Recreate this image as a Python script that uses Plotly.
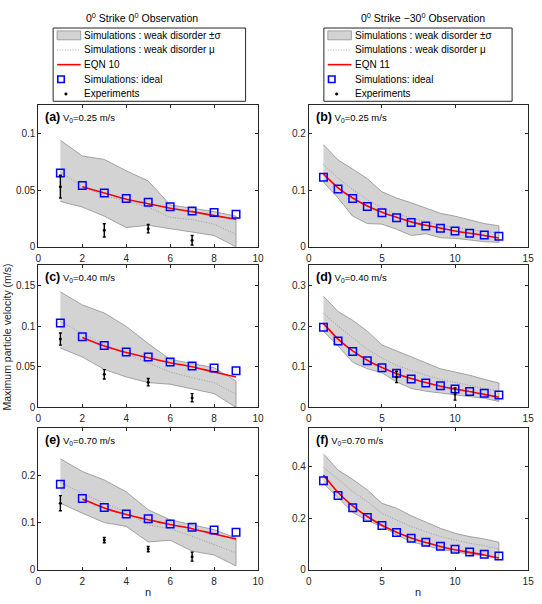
import plotly.graph_objects as go

W, H = 542, 604
FONT = "Liberation Sans"

# ---------------- data ----------------
n_left = [1, 2, 3, 4, 5, 6, 7, 8, 9]
n_left_eqn = [2, 3, 4, 5, 6, 7, 8, 9]
n_right = [1, 2, 3, 4, 5, 6, 7, 8, 9, 10, 11, 12, 13]
exp_n_left = [1, 3, 5, 7]

# (a) V0 = 0.25, 0 deg observation
a_ideal = [0.065, 0.054, 0.0474, 0.0425, 0.0393, 0.0353, 0.0315, 0.0303, 0.0286]
a_eqn = [0.053, 0.0475, 0.042, 0.038, 0.034, 0.031, 0.0275, 0.0243]
a_upper = [0.094, 0.080, 0.077, 0.067, 0.058, 0.037, 0.034, 0.031, 0.027]
a_lower = [0.040, 0.035, 0.027, 0.017, 0.019, 0.016, 0.013, 0.010, 0.0]
a_mean = [0.066, 0.053, 0.045, 0.040, 0.035, 0.026, 0.024, 0.020, 0.011]
a_exp = [0.053, 0.0145, 0.016, 0.0058]
a_exp_err = [0.010, 0.0058, 0.0037, 0.0042]

# (c) V0 = 0.40
c_ideal = [0.1037, 0.087, 0.076, 0.068, 0.062, 0.0557, 0.0508, 0.0484, 0.045]
c_eqn = [0.086, 0.0755, 0.0675, 0.061, 0.055, 0.050, 0.0435, 0.0374]
c_upper = [0.142, 0.126, 0.116, 0.0996, 0.0785, 0.059, 0.054, 0.0488, 0.0325]
c_lower = [0.073, 0.062, 0.0468, 0.0374, 0.0305, 0.0285, 0.0224, 0.017, 0.0]
c_mean = [0.1057, 0.0907, 0.0772, 0.066, 0.055, 0.0435, 0.0366, 0.0305, 0.0163]
c_exp = [0.084, 0.0407, 0.031, 0.012]
c_exp_err = [0.0075, 0.0057, 0.0045, 0.005]

# (e) V0 = 0.70
e_ideal = [0.181, 0.151, 0.132, 0.118, 0.108, 0.097, 0.090, 0.0843, 0.0794]
e_eqn = [0.150, 0.131, 0.117, 0.106, 0.096, 0.087, 0.076, 0.0655]
e_upper = [0.235, 0.208, 0.190, 0.165, 0.127, 0.106, 0.0955, 0.085, 0.0676]
e_lower = [0.141, 0.120, 0.100, 0.092, 0.059, 0.0627, 0.0397, 0.0314, 0.0084]
e_mean = [0.185, 0.162, 0.141, 0.122, 0.0955, 0.087, 0.071, 0.0537, 0.036]
e_exp = [0.141, 0.063, 0.044, 0.028]
e_exp_err = [0.016, 0.0055, 0.0055, 0.0095]

# (b) V0 = 0.25, -30 deg observation
b_ideal = [0.1224, 0.102, 0.085, 0.071, 0.060, 0.0513, 0.043, 0.0367, 0.0327, 0.028, 0.024, 0.021, 0.0187]
b_eqn = [0.128, 0.104, 0.086, 0.072, 0.061, 0.052, 0.044, 0.038, 0.033, 0.028, 0.024, 0.020, 0.0155]
b_upper = [0.18, 0.153, 0.137, 0.12, 0.097, 0.086, 0.0776, 0.069, 0.059, 0.054, 0.048, 0.041, 0.037]
b_lower = [0.114, 0.086, 0.054, 0.041, 0.040, 0.031, 0.020, 0.023, 0.016, 0.015, 0.012, 0.009, 0.008]
b_mean = [0.145, 0.121, 0.101, 0.083, 0.069, 0.058, 0.051, 0.044, 0.038, 0.034, 0.030, 0.027, 0.0245]

# (d) V0 = 0.40
d_ideal = [0.197, 0.163, 0.1376, 0.115, 0.0973, 0.0837, 0.070, 0.060, 0.053, 0.045, 0.0394, 0.0346, 0.0306]
d_eqn = [0.206, 0.168, 0.139, 0.116, 0.098, 0.083, 0.071, 0.061, 0.052, 0.045, 0.039, 0.032, 0.025]
d_upper = [0.2735, 0.2357, 0.214, 0.1875, 0.1537, 0.139, 0.1255, 0.111, 0.095, 0.087, 0.079, 0.069, 0.060]
d_lower = [0.1875, 0.151, 0.111, 0.095, 0.085, 0.0627, 0.0467, 0.040, 0.0346, 0.0306, 0.0265, 0.0225, 0.0145]
d_mean = [0.2317, 0.1995, 0.1714, 0.143, 0.1215, 0.103, 0.091, 0.079, 0.069, 0.061, 0.053, 0.0467, 0.040]
d_exp_n = [6, 10]
d_exp = [0.075, 0.033]
d_exp_err = [0.014, 0.015]

# (f) V0 = 0.70
f_ideal = [0.346, 0.288, 0.241, 0.2026, 0.1716, 0.1445, 0.1226, 0.107, 0.0916, 0.080, 0.0697, 0.0606, 0.054]
f_eqn = [0.368, 0.30, 0.248, 0.207, 0.173, 0.146, 0.124, 0.106, 0.091, 0.078, 0.068, 0.058, 0.046]
f_upper = [0.449, 0.387, 0.351, 0.31, 0.258, 0.239, 0.210, 0.187, 0.161, 0.142, 0.129, 0.120, 0.107]
f_lower = [0.335, 0.28, 0.223, 0.191, 0.168, 0.1355, 0.1097, 0.094, 0.080, 0.071, 0.0606, 0.0555, 0.045]
f_mean = [0.397, 0.352, 0.303, 0.265, 0.219, 0.1935, 0.168, 0.148, 0.129, 0.116, 0.103, 0.094, 0.081]

panel_letters = ["(a)", "(b)", "(c)", "(d)", "(e)", "(f)"]
panel_v0 = ["0.25", "0.25", "0.40", "0.40", "0.70", "0.70"]
y_max = [0.125, 0.25, 0.175, 0.35, 0.30, 0.55]
y_ticks = [[0, 0.05, 0.1], [0, 0.1, 0.2], [0, 0.05, 0.1, 0.15],
           [0, 0.1, 0.2, 0.3], [0, 0.1, 0.2], [0, 0.2, 0.4]]
x_ticks_left = [0, 2, 4, 6, 8, 10]
x_ticks_right = [0, 5, 10, 15]
titles = ["0<sup>0</sup> Strike 0<sup>0</sup> Observation",
          "0<sup>0</sup> Strike \u221230<sup>0</sup> Observation"]
legend_labels_left = ["Simulations : weak disorder \u00b1\u03c3", "Simulations : weak disorder \u03bc",
                      "EQN 10", "Simulations: ideal", "Experiments"]
legend_labels_right = ["Simulations : weak disorder \u00b1\u03c3", "Simulations : weak disorder \u03bc",
                       "EQN 11", "Simulations: ideal", "Experiments"]
y_title = "Maximum particle velocity (m/s)"
x_title = "n"

panels = [
    dict(n=n_left, ne=n_left_eqn, ideal=a_ideal, eqn=a_eqn, up=a_upper, lo=a_lower, mean=a_mean,
         en=exp_n_left, ey=a_exp, ee=a_exp_err),
    dict(n=n_right, ne=n_right, ideal=b_ideal, eqn=b_eqn, up=b_upper, lo=b_lower, mean=b_mean,
         en=[], ey=[], ee=[]),
    dict(n=n_left, ne=n_left_eqn, ideal=c_ideal, eqn=c_eqn, up=c_upper, lo=c_lower, mean=c_mean,
         en=exp_n_left, ey=c_exp, ee=c_exp_err),
    dict(n=n_right, ne=n_right, ideal=d_ideal, eqn=d_eqn, up=d_upper, lo=d_lower, mean=d_mean,
         en=d_exp_n, ey=d_exp, ee=d_exp_err),
    dict(n=n_left, ne=n_left_eqn, ideal=e_ideal, eqn=e_eqn, up=e_upper, lo=e_lower, mean=e_mean,
         en=exp_n_left, ey=e_exp, ee=e_exp_err),
    dict(n=n_right, ne=n_right, ideal=f_ideal, eqn=f_eqn, up=f_upper, lo=f_lower, mean=f_mean,
         en=[], ey=[], ee=[]),
]

# ---------------- layout helpers (pixels -> paper) ----------------
def px(x):
    return x / W

def py(y):
    return 1 - y / H

col_x = [(36, 259.3), (311, 534)]
row_y = [(106, 249.3), (267.7, 411.5), (432.3, 575.6)]

BAND_FILL = "#d3d3d3"
BAND_LINE = "#8f8f8f"
MEAN_COL = "#8a8a8a"
MEAN_DASH = "1px,1.6px"
RED = "#ff0000"
BLUE = "#0000ff"
AX = "#262626"

fig = go.Figure()
layout = dict(width=W, height=H, margin=dict(l=0, r=0, t=0, b=0),
              paper_bgcolor="white", plot_bgcolor="white", showlegend=False,
              font=dict(family=FONT, size=10, color=AX))
annotations = []
shapes = []

for i, p in enumerate(panels):
    r, c = divmod(i, 2)
    k = "" if i == 0 else str(i + 1)
    xa, ya = "x" + k, "y" + k
    # band
    fig.add_trace(go.Scatter(x=p["n"] + p["n"][::-1], y=p["up"] + p["lo"][::-1], fill="toself",
                             fillcolor=BAND_FILL, line=dict(color=BAND_LINE, width=0.8),
                             mode="lines", xaxis=xa, yaxis=ya, hoverinfo="skip"))
    fig.add_trace(go.Scatter(x=p["n"], y=p["mean"], mode="lines",
                             line=dict(color=MEAN_COL, width=0.8, dash=MEAN_DASH), xaxis=xa, yaxis=ya))
    fig.add_trace(go.Scatter(x=p["ne"], y=p["eqn"], mode="lines",
                             line=dict(color=RED, width=1.6, shape="spline", smoothing=0.6),
                             xaxis=xa, yaxis=ya))
    fig.add_trace(go.Scatter(x=p["n"], y=p["ideal"], mode="markers",
                             marker=dict(symbol="square-open", size=7.5, color=BLUE, line=dict(width=1.5)),
                             xaxis=xa, yaxis=ya))
    if p["en"]:
        fig.add_trace(go.Scatter(x=p["en"], y=p["ey"], mode="markers",
                                 marker=dict(size=3, color="black"),
                                 error_y=dict(type="data", array=p["ee"], color="black",
                                              thickness=1.4, width=1.5),
                                 xaxis=xa, yaxis=ya))
    xr = [0, 10] if c == 0 else [0, 15]
    xt = x_ticks_left if c == 0 else x_ticks_right
    layout["xaxis" + k] = dict(domain=[px(col_x[c][0]), px(col_x[c][1])], range=xr, anchor=ya,
                               tickvals=xt, ticktext=[str(v) for v in xt],
                               ticks="inside", ticklen=3, tickcolor=AX, showline=True, linecolor=AX,
                               linewidth=1, mirror="ticks", showgrid=False, zeroline=False,
                               tickfont=dict(size=10, color=AX), ticklabelstandoff=2)
    yt = y_ticks[i]
    layout["yaxis" + k] = dict(domain=[py(row_y[r][1]), py(row_y[r][0])], range=[0, y_max[i]],
                               anchor=xa, tickvals=yt, ticktext=[("%g" % v) for v in yt],
                               ticks="inside", ticklen=3, tickcolor=AX, showline=True, linecolor=AX,
                               linewidth=1, mirror="ticks", showgrid=False, zeroline=False,
                               tickfont=dict(size=10, color=AX))
    annotations.append(dict(
        xref=xa + " domain", yref=ya + " domain", x=0, y=1, xanchor="left", yanchor="top",
        xshift=5, yshift=-3, showarrow=False,
        text="<b><span style='font-size:12.5px'>%s</span></b> V<sub>0</sub>=%s m/s" % (panel_letters[i], panel_v0[i]),
        font=dict(size=9.5, color="black", family=FONT)))

# titles
for c, t in enumerate(titles):
    xc = [141, 427][c]
    annotations.append(dict(xref="paper", yref="paper", x=px(xc), y=py(18), xanchor="center",
                            yanchor="middle", showarrow=False, text=t,
                            font=dict(size=10.5, color="black", family=FONT)))

# legends (drawn as boxes with keys)
for c, labels in enumerate([legend_labels_left, legend_labels_right]):
    bx0, bx1 = [(51, 246.7), (326.3, 517.7)][c]
    by0, by1 = 28.3, 102.3
    shapes.append(dict(type="rect", xref="paper", yref="paper", x0=px(bx0), x1=px(bx1),
                       y0=py(by1), y1=py(by0), line=dict(color=AX, width=1), fillcolor="white"))
    step = (by1 - by0) / len(labels)
    kx0, kx1 = bx0 + 4, bx0 + 28
    for j, lab in enumerate(labels):
        yc = by0 + step * (j + 0.5)
        if j == 0:
            shapes.append(dict(type="rect", xref="paper", yref="paper", x0=px(kx0), x1=px(kx1),
                               y0=py(yc + 4.5), y1=py(yc - 4.5), fillcolor=BAND_FILL,
                               line=dict(color=BAND_LINE, width=0.8)))
        elif j == 1:
            shapes.append(dict(type="line", xref="paper", yref="paper", x0=px(kx0), x1=px(kx1),
                               y0=py(yc), y1=py(yc), line=dict(color=MEAN_COL, width=0.8, dash=MEAN_DASH)))
        elif j == 2:
            shapes.append(dict(type="line", xref="paper", yref="paper", x0=px(kx0), x1=px(kx1),
                               y0=py(yc), y1=py(yc), line=dict(color=RED, width=1.6)))
        elif j == 3:
            sx = bx0 + 8
            shapes.append(dict(type="rect", xref="paper", yref="paper", x0=px(sx - 3.3), x1=px(sx + 3.3),
                               y0=py(yc + 3.3), y1=py(yc - 3.3), line=dict(color=BLUE, width=1.6)))
        else:
            sx = bx0 + 13
            shapes.append(dict(type="circle", xref="paper", yref="paper", x0=px(sx - 1.3), x1=px(sx + 1.3),
                               y0=py(yc + 1.3), y1=py(yc - 1.3), fillcolor="black",
                               line=dict(color="black", width=0.5)))
        annotations.append(dict(xref="paper", yref="paper", x=px(bx0 + 29.5), y=py(yc), xanchor="left",
                                yanchor="middle", showarrow=False, text=lab,
                                font=dict(size=10, color="black", family=FONT)))

# axis titles
annotations.append(dict(xref="paper", yref="paper", x=px(4), y=py(340), textangle=-90,
                        xanchor="center", yanchor="middle", showarrow=False, text=y_title,
                        font=dict(size=10.5, color=AX, family=FONT)))
for xc in [(col_x[0][0] + col_x[0][1]) / 2, (col_x[1][0] + col_x[1][1]) / 2]:
    annotations.append(dict(xref="paper", yref="paper", x=px(xc), y=py(598), xanchor="center",
                            yanchor="middle", showarrow=False, text=x_title,
                            font=dict(size=11, color=AX, family=FONT)))

layout["annotations"] = annotations
layout["shapes"] = shapes
fig.update_layout(**layout)
fig.write_html("out.html")
